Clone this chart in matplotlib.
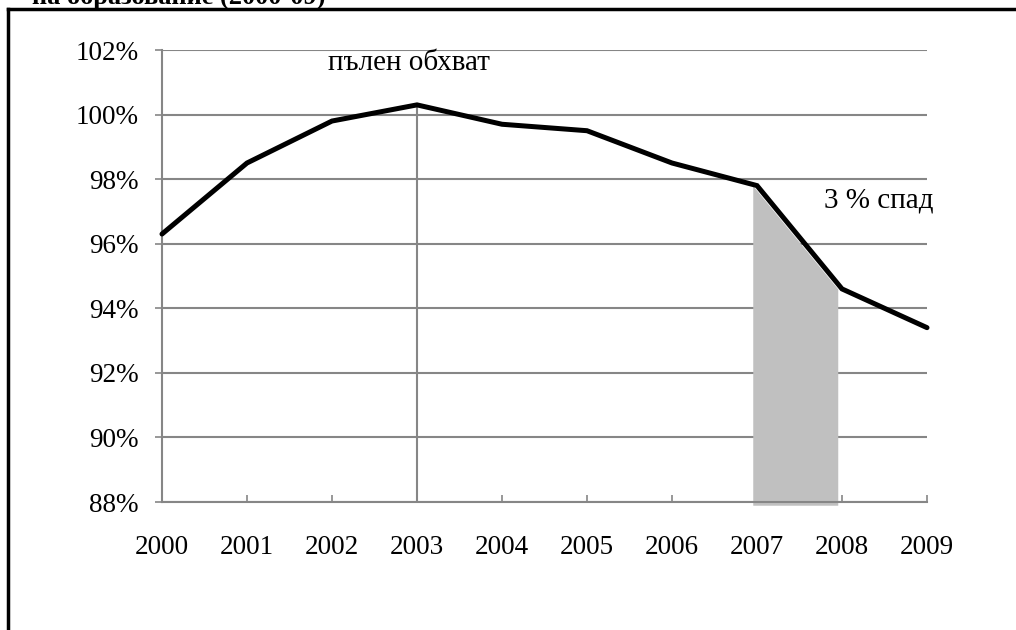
import matplotlib
matplotlib.use("Agg")
import matplotlib.pyplot as plt
from matplotlib.lines import Line2D

years = [2000, 2001, 2002, 2003, 2004, 2005, 2006, 2007, 2008, 2009]
coverage = [96.3, 98.5, 99.8, 100.3, 99.7, 99.5, 98.5, 97.8, 94.6, 93.4]
y_ticks = [88, 90, 92, 94, 96, 98, 100, 102]
y_tick_labels = [f"{v}%" for v in y_ticks]
peak_year = 2003
drop_start, drop_end = 2007, 2008
title_text = "на образование (2000-09)"
peak_label = "пълен обхват"
drop_label = "3 % спад"

plt.rcParams['font.family'] = ['Liberation Serif', 'DejaVu Serif']

fig = plt.figure(figsize=(10.16, 6.3), dpi=100)
ax = fig.add_axes([162/1016, 128/630, (927-162)/1016, (502-50)/630])

grid_c = '#868686'
for v in y_ticks:
    ax.axhline(v, color=grid_c, lw=1.5, zorder=1)

i0, i1 = years.index(drop_start), years.index(drop_end)
ax.fill_between([x - 0.05 for x in years[i0:i1+1]], coverage[i0:i1+1], 87.9,
                color='#C0C0C0', lw=0, zorder=2, clip_on=False)

ip = years.index(peak_year)
ax.plot([peak_year, peak_year], [y_ticks[0], coverage[ip]], color=grid_c, lw=1.5, zorder=2)

ax.plot(years, coverage, color='black', lw=3.6, zorder=3, solid_capstyle='round',
        solid_joinstyle='miter', clip_on=False)

ax.set_xlim(years[0], years[-1])
ax.set_ylim(y_ticks[0], y_ticks[-1])
ax.set_yticks(y_ticks)
ax.set_yticklabels(y_tick_labels)
ax.set_xticks(years)
ax.set_xticklabels([str(y) for y in years])
for s in ['top', 'right']:
    ax.spines[s].set_visible(False)
for s in ['left', 'bottom']:
    ax.spines[s].set_color(grid_c)
    ax.spines[s].set_linewidth(1.5)
ax.tick_params(axis='y', direction='out', length=5, width=1.2, color=grid_c,
               labelsize=19.5, pad=12)
ax.tick_params(axis='x', direction='in', length=5, width=1.2, color=grid_c,
               labelsize=19.5, pad=24)

ax.text(2002.91, 101.6, peak_label, fontsize=21, ha='center', va='center')
ax.text(2008.43, 97.35, drop_label, fontsize=21, ha='center', va='center')

# outer frame (cropped)
fig.add_artist(Line2D([8/1016, 1.0], [621/630, 621/630], color='black', lw=2.5,
                      transform=fig.transFigure))
fig.add_artist(Line2D([8/1016, 8/1016], [0, 621/630], color='black', lw=2.5,
                      transform=fig.transFigure))
fig.text(325/1016, 626/630, title_text, fontsize=19, fontweight='bold',
         ha='right', va='baseline')

fig.savefig('out.png', dpi=100, facecolor='white')
